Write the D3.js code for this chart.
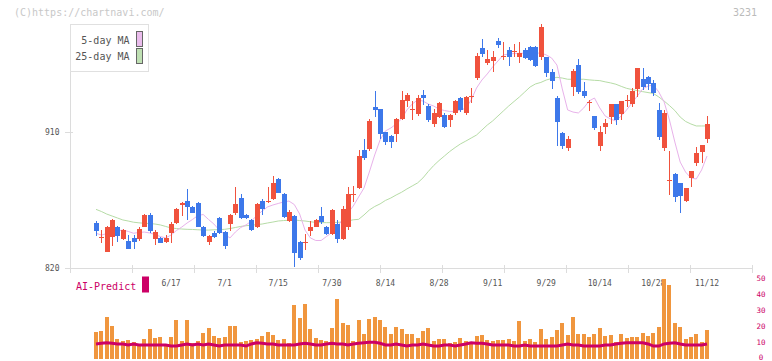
<!DOCTYPE html>
<html><head><meta charset="utf-8">
<script src="https://cdn.jsdelivr.net/npm/d3@7/dist/d3.min.js"></script>
<style>body{margin:0;background:#fff}svg{display:block}text{font-family:"DejaVu Sans Mono",monospace}</style>
</head><body>
<svg id="chart" width="772" height="361"></svg>
<script>
// ---- data ----
const opens  = [850,840.2,830.8,840.7,847.1,839.2,838.1,839.7,839,847.3,855.1,839.2,839.7,837,842.9,849.6,862.5,864.3,860.2,862.8,847.3,837.4,843.3,852.9,843.8,849.1,856.6,866.1,855.1,851.8,846.9,864.3,864.3,865.7,878.7,869,851.3,854.4,837.4,837,844.5,847.3,854.4,847.3,842.5,849.1,839.2,847.3,868.6,872.7,898.1,898.5,926.3,925.2,909.8,907.3,908.7,918.6,930.7,925,921.9,934.5,927.2,915.3,920.1,921.3,917.9,922.4,932.3,922.4,933.6,945.5,965.4,955.5,957.2,970.2,960.1,964.3,963.4,959.8,964.3,966.4,966.4,959.4,959.4,949.9,932.3,909.5,899.6,940,954.3,937.1,929.8,920.6,900.7,913.5,920.1,928.5,921.9,931,928.5,938.5,945.1,946.4,942.4,924.6,899.4,878,882.2,876.2,864.3,879.8,889.7,897,905.4];
const highs  = [851.1,845.1,847.8,852.4,847.8,845.8,841.8,841.8,847.3,855.7,856.4,845.1,840.5,841.8,850.6,859.7,863.9,872.3,861,863.6,847.8,841.8,844.5,853.7,844.5,855.7,873.4,869,855.7,852.4,863,865.7,873.4,880.9,879.6,869.6,858.4,855.1,837.9,842.5,851.3,852.4,860.6,848,859.1,851.8,861,873.4,874.3,898.1,905.4,918.4,937.1,925.2,910.2,908,919.1,937.1,935.6,930.5,934.5,937.8,928.5,925,930,922.4,922,931.5,933,934,939.1,962.1,971.5,964.3,963.6,972.4,969.8,966.4,968.2,969.8,965.6,967,967,981.5,959.8,951.7,933.8,910.2,907.3,951.7,958.3,943.1,931.2,920.6,914,918.8,928.5,928.5,930.7,934.5,938.9,952.3,952.3,947,944.4,929,924.6,897.4,882.9,876.2,873,884.2,900.3,901.4,920.6];
const lows   = [841.4,836.7,830.6,834.8,837.4,838.5,832.6,832.6,838.1,847.1,843.1,835.2,836.5,836.5,836.7,849.1,854.6,851.8,856.4,847.1,840.5,835.2,839.9,842.5,832.4,844.5,855.1,852.4,852.4,844.5,846.5,855.1,862.8,865,869.6,853.1,850.4,820.9,825.3,831.9,841.4,847.1,849.1,841.8,841.8,836.7,838.5,845.1,863.9,872.1,891.5,897.6,920.1,905.4,901.4,899.6,903.6,917.9,926.7,917.9,920.6,927.9,916.6,913.1,919.1,912.8,913.1,921.5,923.5,921.5,929.2,944.4,959.8,954.3,949.9,965.4,957.6,953.9,959.8,955.5,958.3,957,953.3,957.6,946.6,938.5,900.7,898.8,897.6,933.8,935.1,932.7,924.1,911.3,897.6,908.9,915.3,914.6,917.9,926.7,926.7,933,937.8,937.8,933.8,904.7,897.6,868.3,863.9,856.6,863.9,873.8,887.7,889.3,902.9];
const closes = [844.5,840.5,847.3,851.8,841.5,845.1,832.6,837.4,845.6,855.1,844.5,843.8,836.7,839.7,849.1,858.8,862.8,860.2,856.6,847.3,841.4,841.2,840.7,842.9,834.6,855.1,862.3,852.9,852.9,845.1,862.3,858.8,864.5,876,869.8,853.9,857.3,829.7,826.4,837.2,847.3,851.8,850.6,842.5,858.4,839.2,858.8,869,868.8,894.1,892.6,917.3,924.6,909,903.6,903.6,918.6,931.2,934.5,925.2,932.7,932.7,917.9,922.8,929,913.5,921.3,930.7,924.6,933.4,933.8,960.3,961.6,958.3,959.8,967.8,960.3,959.8,963.6,962.5,959.2,957.6,953.9,979.7,949.2,943.9,916.8,900.7,905.4,950.4,936.7,933.8,930,912.8,910,915.8,928.5,917.9,930.7,931.2,937.1,952.3,940,941.8,936,906.9,922.6,878.2,866.8,867.6,873,884.2,896.1,901.4,915.3];
const ma5    = [843,841.8,842.8,844,844.5,845.1,844.2,843,843.5,843.8,843.2,842.2,840.8,839.9,841.8,844.8,847.1,849.8,852.1,854.7,855.4,852.1,849.1,845.1,842.2,839.9,843.8,846.8,848.5,851.1,854.7,857.7,860.4,861.7,862.7,863.7,864.3,862,855.7,845.1,839.9,838.2,838.2,840.8,843.5,847.5,851.8,856.4,861,867,872.9,883.5,894.8,904.7,910.7,912.6,915.3,918.6,924.6,928.5,931.2,930.5,928.5,927.2,925.2,924.2,923.6,923.6,924.6,925.7,931.2,939.1,944.4,948.4,953,957,961,961.6,961.9,962.1,962.1,962.1,962.1,962.3,961,959,954.3,938.5,924.6,923.2,922.6,925.9,930.5,932.5,925.9,920.6,918.6,917.3,920.6,924.6,929.2,933.8,938.5,940.4,941.1,936.5,929.9,917.9,903.4,890.1,883.5,879.6,878.9,884.9,894.1];
const ma25   = [858.8,857.4,855.7,854.4,853.1,851.8,851.1,850.3,849.9,849.6,849.4,849.1,848.5,847.5,846.5,846.1,845.8,845.6,845.5,845.3,845.1,845.1,845.3,845.4,845.6,846.1,846.8,847.5,848,848.3,848.7,849.1,849.8,850.4,851.1,851.4,851.6,851.8,851.4,851.1,850.6,850.2,850,850,850,850.2,850.4,851.1,851.9,852.2,855.1,858.4,860.7,862.4,864.7,866.3,868.3,870.1,872.3,874.3,876.3,879.6,883.9,887.8,891.1,894.1,897.1,899.7,902.1,904,906,908,911.3,914.6,917.3,920.6,923.9,927.2,930.2,933.2,936.5,939.8,941.8,942.8,944.4,945.4,946.2,945.7,944.9,944.9,944.9,944.9,944.5,944.2,944,943.2,942.5,941.6,940.2,938.9,938.1,937.4,936.7,936.1,935.5,933.2,930.5,927.5,924.2,919.9,917,915.3,914,914,914];
const volume = [16.9,17.5,26.3,20.6,12.5,11.3,11.9,10.6,9.4,12.5,18.8,13.1,13.8,9.4,13.8,24.4,11.3,24.4,10,11.3,16.3,19.4,14.4,13.1,13.8,20.6,20.6,10.6,11.3,11.9,12.5,14.4,16.9,15,11.9,12.5,10,33.8,25.6,34.4,18.8,13.1,11.9,11.3,19.4,37.5,22.5,21.3,11.3,24.4,15.6,25,26.3,24.4,20,15.6,20,18.8,15.6,15.6,13.1,17.5,19.4,11.3,12.5,12.5,10,10.6,13.1,11.3,10.6,14.4,15,11.9,11.3,11.9,11.9,12.5,11.3,23.8,11.3,12.5,10.6,18.8,12.5,13.8,18.1,22.5,15,26.3,15.6,15.6,13.8,15.6,19.4,14.4,15,10.6,15.6,13.1,13.8,13.8,16.3,14.4,16.3,20,50,46.3,22.5,20,12.5,13.8,15.6,10.6,18.1];
const aiPredict = [9.4,9.8,10.2,9.8,9.4,9.4,8.75,9.4,8.75,8.75,8.75,8.75,8.75,8.75,8.1,8.1,8.75,9.4,8.75,9.4,8.75,9.4,8.75,8.1,8.75,8.75,8.75,8.75,8.1,9.4,10.2,9.8,9.4,9.4,8.75,8.75,8.75,8.75,9.4,9.8,9.4,8.75,8.75,9.4,9.8,9.4,9.4,8.75,9.4,9.8,10.2,10.4,10.4,9.8,8.75,8.75,9.4,8.75,8.1,8.75,8.75,9.4,8.75,8.1,8.1,8.75,8.75,8.1,8.75,9.4,10.2,9.8,9.8,9.4,8.75,8.75,8.75,8.75,8.1,8.1,8.75,8.1,8.1,8.1,8.1,8.1,8.1,8.75,9.4,8.75,8.75,8.1,8.1,8.1,8.1,8.75,8.75,9.4,9.8,10.2,10.2,10.2,10.2,9.4,8.1,8.1,9.4,9.8,10.2,9.4,8.75,8.75,8.75,8.75,9.4];
const dateLabels = ["6/17","7/1","7/15","7/30","8/14","8/28","9/11","9/29","10/14","10/28","11/12"];
const dateLabelIndex = [14,24,34,44,54,64,74,84,94,104,114];
const priceTicks = [820, 910];
const volumeTicks = [0,10,20,30,40,50];
const legendItems = ["5-day MA","25-day MA"];

// ---- drawing ----
const svg = d3.select("#chart");
const N = closes.length;
const x = d3.scaleLinear().domain([0, N-1]).range([96, 707]);
const y = d3.scaleLinear().domain([820, 910]).range([268, 132]);
const vy = d3.scaleLinear().domain([0, 50]).range([359, 279]);
const gridX = d3.scaleLinear().domain([0, 11]).range([70, 752]);

const RED = "#f0523d", BLUE = "#3d78ea", AXIS = "#dcdcdc";

svg.append("text").attr("x",14).attr("y",16).attr("font-size",10).attr("fill","#c8c8c8").text("(C)https://chartnavi.com/");
svg.append("text").attr("x",757).attr("y",16).attr("font-size",10).attr("fill","#bbbbbb").attr("text-anchor","end").text("3231");

svg.append("line").attr("x1",70.5).attr("x2",70.5).attr("y1",24).attr("y2",268).attr("stroke",AXIS);
svg.append("line").attr("x1",65).attr("x2",752.5).attr("y1",268.5).attr("y2",268.5).attr("stroke",AXIS);
svg.selectAll(".xt").data(d3.range(12)).join("line")
  .attr("x1",d=>Math.round(gridX(d))+0.5).attr("x2",d=>Math.round(gridX(d))+0.5)
  .attr("y1",265).attr("y2",273).attr("stroke",AXIS);
svg.selectAll(".yt").data(priceTicks).join("line")
  .attr("x1",65).attr("x2",73).attr("y1",d=>Math.round(y(d))+0.5).attr("y2",d=>Math.round(y(d))+0.5).attr("stroke",AXIS);
svg.selectAll(".yl").data(priceTicks).join("text")
  .attr("x",59.5).attr("y",d=>y(d)+3).attr("text-anchor","end").attr("font-size",8).attr("fill","#555").text(d=>d);

svg.selectAll(".dl").data(dateLabels).join("text")
  .attr("x",(d,i)=>x(dateLabelIndex[i])).attr("y",285.5).attr("text-anchor","middle")
  .attr("font-size",8).attr("fill","#555").text(d=>d);

const idx = d3.range(N);
svg.append("path").datum(idx).attr("fill","none").attr("stroke","#b6dca6").attr("stroke-width",1)
  .attr("d", d3.line().x(i=>x(i)).y(i=>y(ma25[i])));
svg.append("path").datum(idx).attr("fill","none").attr("stroke","#e8b2ea").attr("stroke-width",1)
  .attr("d", d3.line().x(i=>x(i)).y(i=>y(ma5[i])));

const cg = svg.append("g").attr("shape-rendering","crispEdges");
const col = i => closes[i] >= opens[i] ? RED : BLUE;
cg.selectAll(".wick").data(idx).join("line")
  .attr("x1",i=>Math.round(x(i))+0.5).attr("x2",i=>Math.round(x(i))+0.5)
  .attr("y1",i=>y(highs[i])).attr("y2",i=>y(lows[i])).attr("stroke",col);
cg.selectAll(".body").data(idx).join("rect")
  .attr("x",i=>Math.round(x(i))-2).attr("width",5)
  .attr("y",i=>y(Math.max(opens[i],closes[i])))
  .attr("height",i=>Math.max(1.2, Math.abs(y(opens[i])-y(closes[i]))))
  .attr("fill",col);

svg.append("g").attr("shape-rendering","crispEdges").selectAll("rect").data(idx).join("rect")
  .attr("x",i=>Math.round(x(i))-2).attr("width",4)
  .attr("y",i=>vy(volume[i])).attr("height",i=>vy(0)-vy(volume[i]))
  .attr("fill","#f0963e");
svg.append("path").datum(idx).attr("fill","none").attr("stroke","#cc0066").attr("stroke-width",3)
  .attr("d", d3.line().x(i=>x(i)).y(i=>vy(aiPredict[i])));
svg.selectAll(".vl").data(volumeTicks).join("text")
  .attr("x",761).attr("y",d=>Math.min(vy(d)+2, 359.5)).attr("text-anchor","middle").attr("font-size",7.5)
  .attr("fill","#cc0066").text(d=>d);

svg.append("text").attr("x",76).attr("y",289.5).attr("font-size",10).attr("fill","#cc0066").text("AI-Predict");
svg.append("rect").attr("x",142).attr("y",276.5).attr("width",7).attr("height",16).attr("fill","#cc0066");

const lg = svg.append("g");
lg.append("rect").attr("x",70.5).attr("y",24.5).attr("width",78).attr("height",47).attr("fill","#fff").attr("stroke","#e0e0e0");
lg.selectAll("text").data(legendItems).join("text")
  .attr("x",129.5).attr("y",(d,i)=>43.5+i*16.5).attr("text-anchor","end").attr("font-size",10).attr("fill","#555").text(d=>d);
lg.selectAll(".sw").data(["#eabcec","#bfe0b3"]).join("rect")
  .attr("x",136.5).attr("y",(d,i)=>31.5+i*17).attr("width",6).attr("height",15)
  .attr("fill",d=>d).attr("stroke","#666");
</script>
</body></html>
